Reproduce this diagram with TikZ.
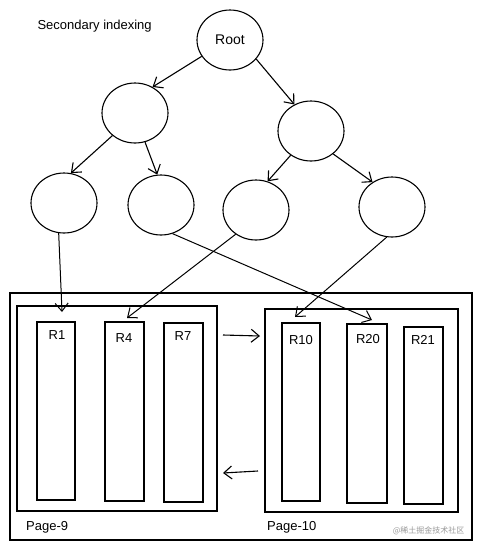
\documentclass[tikz,border=0pt]{standalone}
\usepackage{fontspec}
\setmainfont{Liberation Sans}
\newfontfamily\cjk{Noto Sans CJK SC}
\usetikzlibrary{shapes.geometric,arrows.meta,calc}
\begin{document}
\begin{tikzpicture}[x=1pt,y=-1pt,
  every node/.style={font=\fontsize{13}{15}\selectfont},
  bnode/.style={draw,line width=1.1pt,ellipse,minimum width=66pt,minimum height=60pt,inner sep=0pt},
  rec/.style={draw,line width=1.1pt,rectangle,inner sep=0pt},
  lbl/.style={inner sep=1pt,font=\fontsize{13}{15}\selectfont},
  arr/.style={line width=1.1pt,-{Straight Barb[length=8pt,width=13pt]}},
  lnk/.style={line width=1pt,-{Straight Barb[length=8pt,width=13pt]}}]
\useasboundingbox (0,0) rectangle (480,550);
% title
\node[anchor=west,font=\fontsize{13}{15}\selectfont] (title) at (34,26) {Secondary indexing};
% tree
\node[bnode,font=\fontsize{14}{16}\selectfont] (root) at (230,40) {Root};
\node[bnode] (lm) at (135,113) {};
\node[bnode] (rm) at (311,131) {};
\node[bnode] (l1) at (64,203) {};
\node[bnode] (l2) at (161,205) {};
\node[bnode] (l3) at (256,210) {};
\node[bnode] (l4) at (392,207) {};
\draw[arr] (root.210) -- (lm.56);
\draw[arr] (root.-36) -- (rm.122);
\draw[arr] (lm.-135) -- (l1.77);
\draw[arr] (lm.-71) -- (l2.97);
\draw[arr] (rm.-130) -- (l3.68);
\draw[arr] (rm.-46) -- (l4.128);
% boxes
\node[rec,minimum width=462pt,minimum height=247pt] (outer) at (241,416.5) {};
\node[rec,minimum width=200pt,minimum height=205pt] (p9) at (117,408.5) {};
\node[rec,minimum width=193pt,minimum height=203pt] (p10) at (361.5,410.5) {};
\node[rec,minimum width=38pt,minimum height=178pt] (r1) at (56,411) {};
\node[rec,minimum width=39pt,minimum height=179pt] (r4) at (124.5,411.5) {};
\node[rec,minimum width=39pt,minimum height=179pt] (r7) at (183.5,412.5) {};
\node[rec,minimum width=38pt,minimum height=178pt] (r10) at (301,412) {};
\node[rec,minimum width=40pt,minimum height=179pt] (r20) at (367,413.5) {};
\node[rec,minimum width=39pt,minimum height=177pt] (r21) at (423.5,415.5) {};
\node[lbl] (r1t) at (57,335) {R1};
\node[lbl] (r4t) at (124,338) {R4};
\node[lbl] (r7t) at (183,336) {R7};
\node[lbl] (r10t) at (301,340) {R10};
\node[lbl] (r20t) at (368,339) {R20};
\node[lbl] (r21t) at (423,340) {R21};
\node[lbl,anchor=west] (p9t) at (25,527) {Page-9};
\node[lbl,anchor=west] (p10t) at (266,527) {Page-10};
\node[anchor=east,text=black!40,font=\cjk\fontsize{8}{10}\selectfont] (wm) at (468,531) {@稀土掘金技术社区};
% links from leaves to records
\coordinate (t1) at (62,312);
\coordinate (t20) at (372,320);
\coordinate (t4) at (127,318);
\coordinate (t10) at (295,317);
\draw[lnk] (l1.-100) -- (t1);
\draw[lnk] (l2.-68) -- (t20);
\draw[lnk] (l3.-130) -- (t4);
\draw[lnk] (l4.-100) -- (t10);
% page links
\coordinate (a1) at (223,335);
\coordinate (a2) at (260,336);
\coordinate (b1) at (258,471);
\coordinate (b2) at (223,473);
\draw[arr] (a1) -- (a2);
\draw[arr] (b1) -- (b2);
\end{tikzpicture}
\end{document}
